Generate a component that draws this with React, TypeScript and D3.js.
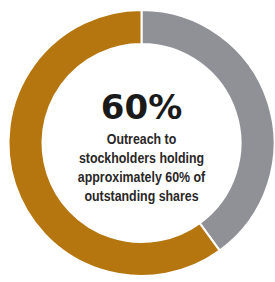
import { useEffect, useRef } from 'react';
import * as d3 from 'd3';

// Share of outreach vs. remainder
const segments = ['Remaining', 'Outreach'];
const values = [40, 60];
const colors = ['#909196', '#b5760f'];

const headline = '60%';
const captionLines = [
  'Outreach to',
  'stockholders holding',
  'approximately 60% of',
  'outstanding shares',
];

export default function App() {
  const svgRef = useRef<SVGSVGElement>(null);

  useEffect(() => {
    if (!svgRef.current) return;
    const svg = d3.select(svgRef.current);
    svg.selectAll('*').remove();

    const width = 275;
    const height = 282;
    const cx = 141.5;
    const cy = 143;
    const outer = 133;
    const inner = 99;

    svg.attr('width', width).attr('height', height).attr('viewBox', [0, 0, width, height]);

    svg.append('rect').attr('width', width).attr('height', height).attr('fill', '#fff');

    const pie = d3.pie<number>().sort(null).value(d => d);
    const arc = d3.arc<d3.PieArcDatum<number>>().innerRadius(inner).outerRadius(outer);

    const g = svg.append('g').attr('transform', `translate(${cx},${cy})`);

    g.selectAll('path')
      .data(pie(values))
      .join('path')
      .attr('d', arc)
      .attr('fill', (_, i) => colors[i])
      .attr('stroke', '#fff')
      .attr('stroke-width', 2)
      .append('title')
      .text((d, i) => `${segments[i]}: ${d.data}%`);

    g.append('text')
      .attr('x', 0)
      .attr('y', -24)
      .attr('text-anchor', 'middle')
      .attr('font-family', 'DejaVu Sans, sans-serif')
      .attr('font-weight', 'bold')
      .attr('font-size', 34)
      .attr('fill', '#1b1a1a')
      .text(headline);

    // condensed look for the caption
    const caption = g.append('g').attr('transform', 'scale(0.8,1)');
    caption.selectAll('text')
      .data(captionLines)
      .join('text')
      .attr('x', 0)
      .attr('y', (_, i) => 1 + i * 19)
      .attr('text-anchor', 'middle')
      .attr('font-family', 'Liberation Sans, Arial, sans-serif')
      .attr('font-weight', 'bold')
      .attr('font-size', 15.5)
      .attr('fill', '#2a2727')
      .text(d => d);
  }, []);

  return (
    <div style={{ position: 'fixed', left: 0, top: 0 }}>
      <svg ref={svgRef} style={{ display: 'block' }}></svg>
    </div>
  );
}
